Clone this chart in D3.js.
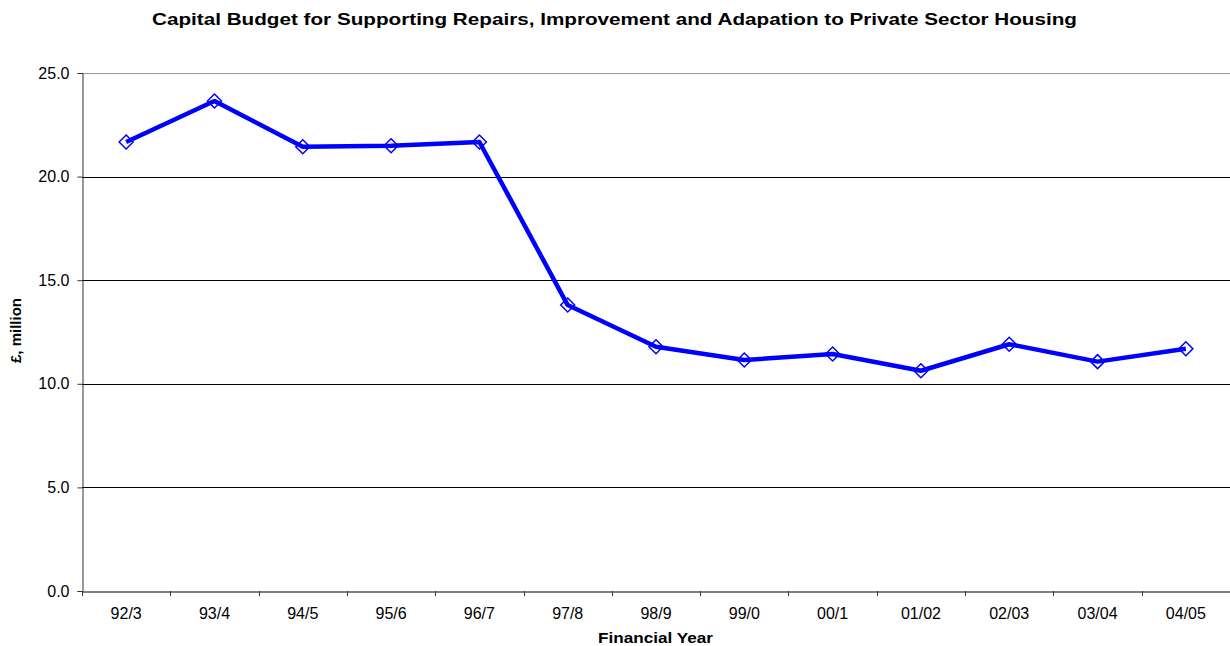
<!DOCTYPE html>
<html><head><meta charset="utf-8">
<script src="https://cdn.jsdelivr.net/npm/d3@7"></script>
<style>body{margin:0;background:#fff;} svg{display:block;font-family:"Liberation Sans",Arial,sans-serif;}</style>
</head><body>
<svg id="c" width="1230" height="646"></svg>
<script>
const categories = ["92/3","93/4","94/5","95/6","96/7","97/8","98/9","99/0","00/1","01/02","02/03","03/04","04/05"];
const values = [21.67,23.65,21.44,21.49,21.67,13.80,11.79,11.15,11.44,10.63,11.91,11.07,11.69];
const yTicks = [0,5,10,15,20,25];

const svg = d3.select("#c");
const m = {left:82, right:1230, top:73, bottom:591};
const x = d3.scaleBand().domain(categories).range([m.left, m.right]);
const y = d3.scaleLinear().domain([0,25]).range([m.bottom, m.top]);
const FF = "Liberation Sans, Arial, sans-serif";

// gridlines
svg.append("g").selectAll("line").data(yTicks.filter(d=>d>0)).join("line")
  .attr("x1", m.left).attr("x2", m.right)
  .attr("y1", d=>Math.round(y(d))+0.5).attr("y2", d=>Math.round(y(d))+0.5)
  .attr("stroke", d=> d===25 ? "#999" : "#000").attr("stroke-width",1);

// y axis
const ya = svg.append("g").attr("transform",`translate(${m.left+0.5},0)`)
  .call(d3.axisLeft(y).tickValues(yTicks).tickFormat(d3.format(".1f")).tickSize(5).tickPadding(8));
ya.select(".domain").attr("stroke","#333");
ya.selectAll(".tick line").attr("stroke","#333");
ya.selectAll("text").attr("font-size",16).attr("fill","#000").attr("font-family",FF);

// x axis
const xa = svg.append("g").attr("transform",`translate(0,${m.bottom+0.5})`)
  .call(d3.axisBottom(x).tickSize(0).tickPadding(16.5));
xa.select(".domain").attr("stroke","#555").attr("stroke-width",1.5);
xa.selectAll("text").attr("font-size",16).attr("fill","#000").attr("font-family",FF);
svg.append("g").selectAll("line").data(categories).join("line")
  .attr("x1", d=>Math.round(x(d))+0.5).attr("x2", d=>Math.round(x(d))+0.5)
  .attr("y1", m.bottom).attr("y2", m.bottom+5).attr("stroke","#333");

// line
const pts = categories.map((c,i)=>[x(c)+x.bandwidth()/2, y(values[i])]);
svg.append("path").datum(pts).attr("d", d3.line())
  .attr("fill","none").attr("stroke","#0000ff").attr("stroke-width",4.5).attr("stroke-linejoin","round");
svg.append("g").selectAll("path").data(pts).join("path")
  .attr("d", d=>`M${d[0]},${d[1]-7}L${d[0]+7},${d[1]}L${d[0]},${d[1]+7}L${d[0]-7},${d[1]}Z`)
  .attr("fill","none").attr("stroke","#0000ff").attr("stroke-width",1.5);

// titles
svg.append("text").attr("x",614.5).attr("y",24.5).attr("text-anchor","middle")
  .attr("font-size",16.5).attr("font-weight","bold")
  .attr("textLength",925).attr("lengthAdjust","spacingAndGlyphs")
  .text("Capital Budget for Supporting Repairs, Improvement and Adapation to Private Sector Housing");
svg.append("text").attr("x",655.5).attr("y",643).attr("text-anchor","middle")
  .attr("font-size",15).attr("font-weight","bold")
  .attr("textLength",115).attr("lengthAdjust","spacingAndGlyphs").text("Financial Year");
svg.append("text").attr("transform","translate(21,330.5) rotate(-90)").attr("text-anchor","middle")
  .attr("font-size",15).attr("font-weight","bold").text("£, million");
</script>
</body></html>
